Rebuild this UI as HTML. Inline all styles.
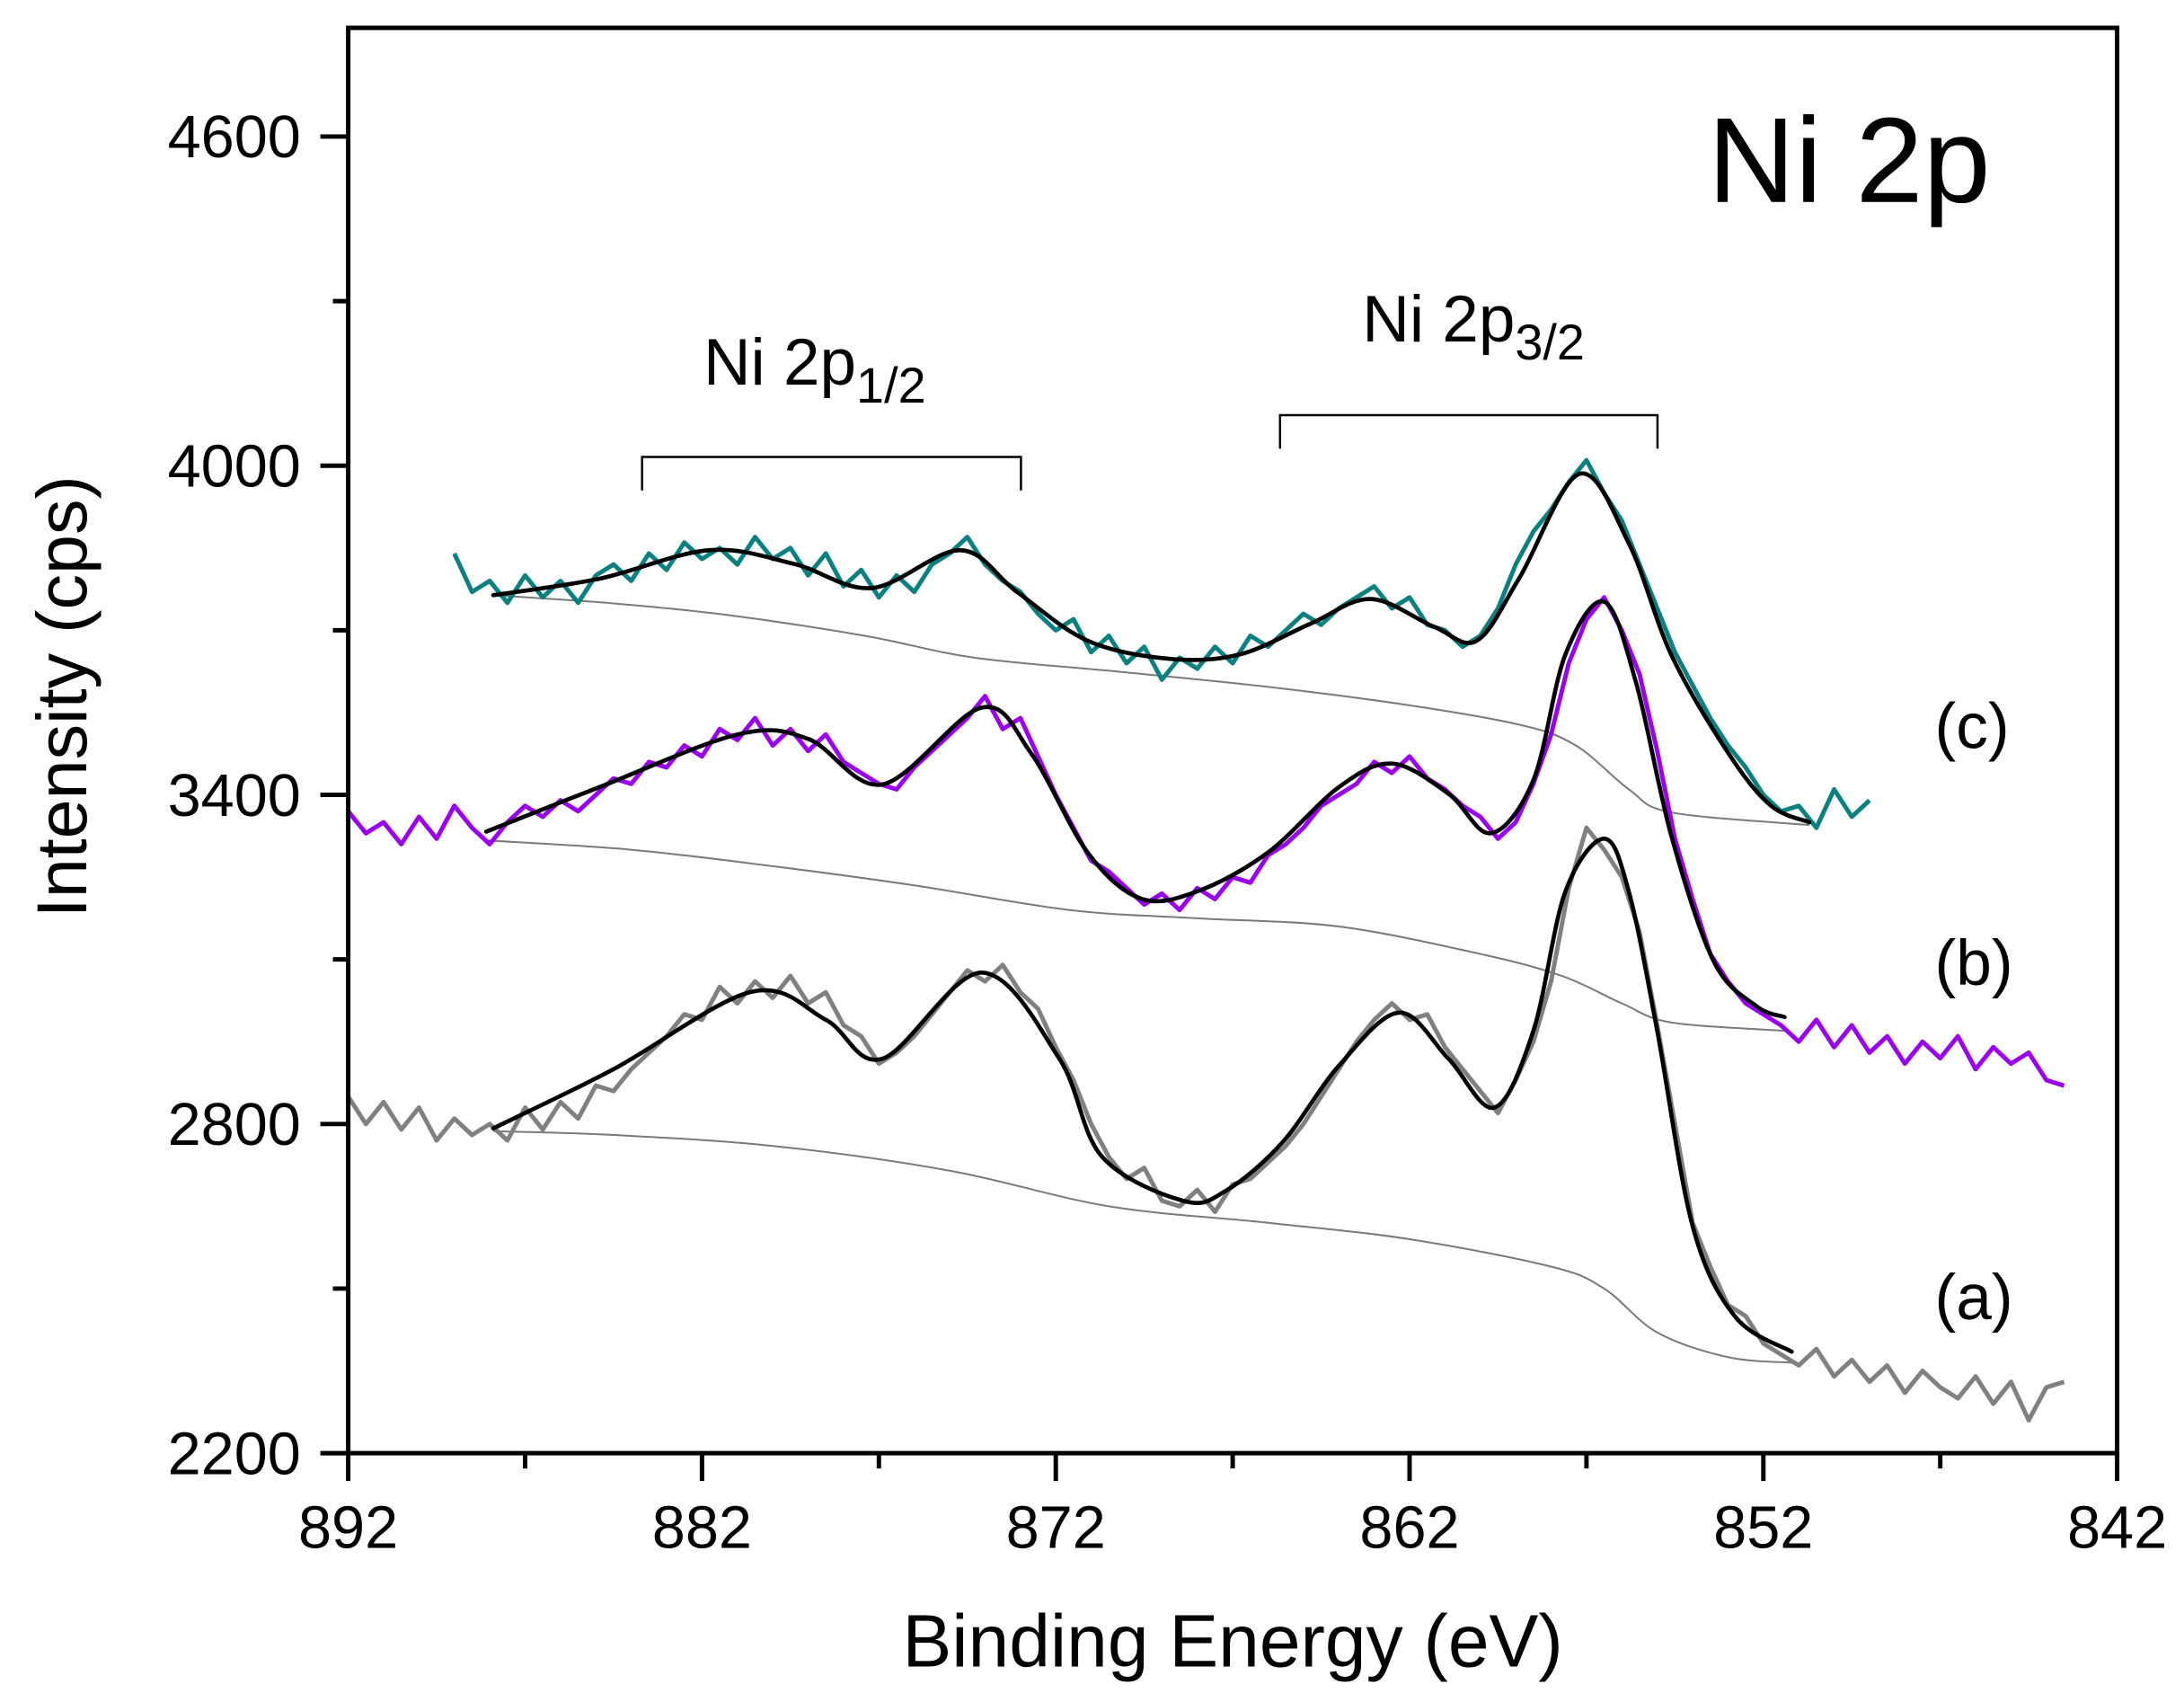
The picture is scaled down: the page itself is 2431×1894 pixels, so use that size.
<!DOCTYPE html>
<html><head><meta charset="utf-8"><style>
html,body{margin:0;padding:0;background:#fff;}
svg{display:block;font-family:"Liberation Sans",Arial,sans-serif;}
</style></head>
<body>
<svg id="chart" width="2431" height="1894" viewBox="0 0 1568 1221.6" preserveAspectRatio="none" xmlns="http://www.w3.org/2000/svg">
<rect x="0" y="0" width="1568" height="1222" fill="#fff"/>
<g id="plot"></g>
</svg>
<script>
const xTicks=[892,882,872,862,852,842];
const xMinor=[887,877,867,857,847];
const yTicks=[2200,2800,3400,4000,4600];
const yMinor=[2500,3100,3700,4300];
const rawStartA=892, rawStartB=892, rawStartC=889, rawStep=0.5;
const rawA=[2850,2800,2840,2790,2830,2770,2810,2780,2800,2770,2830,2790,2840,2810,2870,2860,2900,2930,2960,3000,2990,3050,3020,3060,3030,3070,3020,3040,2980,2960,2910,2930,2960,3000,3040,3080,3060,3090,3040,3010,2940,2880,2800,2740,2700,2720,2660,2650,2680,2640,2690,2700,2730,2760,2800,2850,2900,2950,2990,3020,2990,3000,2940,2900,2860,2820,2880,2950,3060,3230,3340,3300,3250,3150,2980,2800,2620,2540,2470,2450,2400,2380,2360,2390,2340,2370,2330,2360,2310,2350,2320,2300,2340,2290,2330,2260,2320,2330];
const rawB=[3370,3330,3350,3310,3360,3320,3380,3340,3310,3350,3380,3360,3390,3370,3400,3430,3420,3460,3450,3490,3470,3520,3500,3540,3490,3520,3480,3510,3460,3440,3420,3410,3450,3480,3510,3540,3580,3520,3540,3470,3400,3340,3280,3260,3230,3200,3220,3190,3230,3210,3250,3240,3290,3310,3340,3380,3400,3420,3460,3440,3470,3430,3410,3380,3360,3320,3350,3420,3510,3640,3720,3760,3700,3620,3480,3320,3210,3110,3060,3020,3000,2980,2950,2990,2940,2980,2930,2960,2910,2950,2920,2960,2900,2940,2910,2930,2880,2870];
const rawC=[3840,3770,3790,3750,3800,3760,3790,3750,3800,3820,3790,3840,3810,3860,3830,3850,3820,3870,3830,3850,3800,3840,3780,3810,3760,3800,3770,3820,3840,3870,3820,3790,3770,3730,3700,3720,3660,3690,3640,3670,3610,3650,3630,3670,3640,3690,3670,3700,3730,3710,3740,3760,3780,3740,3760,3710,3700,3670,3690,3740,3820,3880,3920,3970,4010,3950,3900,3820,3740,3660,3600,3540,3490,3450,3400,3370,3380,3340,3410,3360,3390];
const fitAE=[887.9,884.5,880.6,878.5,876.9,874.1,871.9,870.7,868.4,867.2,865.6,864,862.3,860.9,859.6,858.5,857.6,856.5,855.8,855,854,852.8,851.2];
const fitAV=[2792,2900,3041,2990,2919,3076,2919,2741,2660,2678,2766,2906,3003,2919,2830,2970,3223,3320,3223,2970,2614,2449,2385];
const fitBE=[888.1,884.9,881,879,876.9,874.1,872.7,871.1,869.6,868,866,864,862.5,860.9,859.7,858.5,857.6,856.5,855.6,854.6,853.4,852.2,851.4];
const fitBV=[3333,3414,3510,3502,3419,3559,3476,3295,3211,3224,3295,3414,3457,3402,3330,3427,3655,3752,3605,3325,3096,3015,2995];
const fitCE=[887.9,884.9,881.8,879.4,877.2,874.7,873.1,871.1,868.8,866.8,864.8,863.1,861.3,860.1,858.9,857.2,855.8,854.6,853,851.8,850.7];
const fitCV=[3764,3794,3846,3821,3777,3846,3770,3681,3648,3656,3712,3757,3706,3681,3795,3985,3858,3655,3477,3381,3350];
const bgAE=[887.9,884.5,880,875,870.5,866,862,858,856.5,855,853,851.2];
const bgAV=[2787,2780,2760,2715,2650,2620,2590,2540,2500,2420,2375,2365];
const bgBE=[888.1,884,880,876,871.6,868,864,860,857.7,856,854.6,851.4];
const bgBV=[3317,3300,3270,3235,3190,3175,3160,3110,3070,3020,2985,2970];
const bgCE=[887.9,884.5,881.3,877.4,874.3,870.3,866.3,862.3,858.9,857.3,855.8,854.6,850.7];
const bgCV=[3764,3749,3728,3690,3650,3625,3599,3566,3528,3490,3410,3368,3345];

const L=250,R=1520,T=20,B=1043;
const X=e=>L+(892-e)/(892-842)*(R-L);
const Y=v=>B-(v-2200)/(4600-2200)*(B-98);
const NS='http://www.w3.org/2000/svg';
const g=document.getElementById('plot');
function el(t,a){const n=document.createElementNS(NS,t);for(const k in a)n.setAttribute(k,a[k]);g.appendChild(n);return n;}
function linePath(pts){return pts.map((p,i)=>(i?'L':'M')+p[0].toFixed(2)+' '+p[1].toFixed(2)).join(' ');}
function smoothPath(pts){let d='M'+pts[0][0]+' '+pts[0][1];for(let i=0;i<pts.length-1;i++){const p0=pts[i-1]||pts[i],p1=pts[i],p2=pts[i+1],p3=pts[i+2]||p2;const c1=[p1[0]+(p2[0]-p0[0])/6,p1[1]+(p2[1]-p0[1])/6],c2=[p2[0]-(p3[0]-p1[0])/6,p2[1]-(p3[1]-p1[1])/6];d+=` C${c1[0].toFixed(2)} ${c1[1].toFixed(2)} ${c2[0].toFixed(2)} ${c2[1].toFixed(2)} ${p2[0].toFixed(2)} ${p2[1].toFixed(2)}`;}return d;}
function rawPts(arr,start){return arr.map((v,i)=>[X(start-i*rawStep),Y(v)]);}
function pairPts(E,V){return E.map((e,i)=>[X(e),Y(V[i])]);}

[[bgAE,bgAV,'background-a'],[bgBE,bgBV,'background-b'],[bgCE,bgCV,'background-c']].forEach(s=>{
 const p=el('path',{d:smoothPath(pairPts(s[0],s[1])),fill:'none',stroke:'#7a7a7a','stroke-width':1.3});
 
 
});
[[rawA,rawStartA,'#808080','raw-spectrum-a'],[rawB,rawStartB,'#9a00f0','raw-spectrum-b'],[rawC,rawStartC,'#0b8080','raw-spectrum-c']].forEach(s=>{
 const p=el('path',{d:linePath(rawPts(s[0],s[1])),fill:'none',stroke:s[2],'stroke-width':3.2,'stroke-linejoin':'round'});
 
 
});
[[fitAE,fitAV,'fit-curve-a'],[fitBE,fitBV,'fit-curve-b'],[fitCE,fitCV,'fit-curve-c']].forEach(s=>{
 const p=el('path',{d:smoothPath(pairPts(s[0],s[1])),fill:'none',stroke:'#000','stroke-width':3,'stroke-linecap':'round'});
 
 
});
const fr=el('rect',{x:L,y:T,width:R-L,height:B-T,fill:'none',stroke:'#000','stroke-width':3.2});


xTicks.forEach(t=>{
 const ln=el('line',{x1:X(t),x2:X(t),y1:B,y2:B+20,stroke:'#000','stroke-width':3.2});
 
 
 const tx=el('text',{x:X(t),y:B+68,'font-size':43,'text-anchor':'middle'});tx.textContent=t;
 
 
});
xMinor.forEach(t=>{
 const ln=el('line',{x1:X(t),x2:X(t),y1:B,y2:B+11,stroke:'#000','stroke-width':3.2});
 
 
});
yTicks.forEach(t=>{
 const ln=el('line',{x1:L-20,x2:L,y1:Y(t),y2:Y(t),stroke:'#000','stroke-width':3.2});
 
 
 const tx=el('text',{x:216,y:Y(t)+15,'font-size':43,'text-anchor':'end'});tx.textContent=t;
 
 
});
yMinor.forEach(t=>{
 const ln=el('line',{x1:L-11,x2:L,y1:Y(t),y2:Y(t),stroke:'#000','stroke-width':3.2});
 
 
});
</script>
<script>
(function(){
const NS='http://www.w3.org/2000/svg',g=document.getElementById('plot');
function t(x,y,s,txt,name,extra){const n=document.createElementNS(NS,'text');n.setAttribute('x',x);n.setAttribute('y',y);n.setAttribute('font-size',s);if(extra)for(const k in extra)n.setAttribute(k,extra[k]);n.innerHTML=txt;


g.appendChild(n);return n;}
t(885,1196,53,'Binding Energy (eV)','x-axis-title',{'text-anchor':'middle'});
t(62,500,51,'Intensity (cps)','y-axis-title',{'text-anchor':'middle',transform:'rotate(-90 62 500)'});
t(1226,145,87,'Ni 2p','panel-title');
t(505,276,47,'Ni 2p<tspan font-size="36" dy="13">1/2</tspan>','label-ni-2p12');
t(978,245,47,'Ni 2p<tspan font-size="36" dy="13">3/2</tspan>','label-ni-2p32');
t(1389,537,46,'(c)','series-label-c');
t(1389,707,46,'(b)','series-label-b');
t(1389,947,46,'(a)','series-label-a');
[['M461 352 V328 H733 V352','bracket-2p12'],['M919 322 V298 H1190 V322','bracket-2p32']].forEach(b=>{
 const p=document.createElementNS(NS,'path');p.setAttribute('d',b[0]);p.setAttribute('fill','none');p.setAttribute('stroke','#000');p.setAttribute('stroke-width','1.6');
 
 
 g.appendChild(p);
});
})();
</script>
</body></html>
